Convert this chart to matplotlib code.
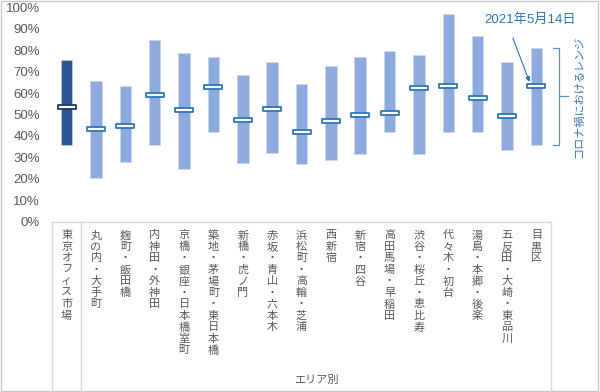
import matplotlib
matplotlib.use('Agg')
import matplotlib.pyplot as plt
from matplotlib.lines import Line2D
from matplotlib.patches import Rectangle
from matplotlib.path import Path

plt.rcParams['font.family'] = ['Liberation Sans', 'Noto Sans CJK JP', 'DejaVu Sans']

areas = [
    '東京オフィス市場', '丸の内・大手町', '麹町・飯田橋', '内神田・外神田',
    '京橋・銀座・日本橋室町', '築地・茅場町・東日本橋', '新橋・虎ノ門',
    '赤坂・青山・六本木', '浜松町・高輪・芝浦', '西新宿', '新宿・四谷',
    '高田馬場・早稲田', '渋谷・桜丘・恵比寿', '代々木・初台',
    '湯島・本郷・後楽', '五反田・大崎・東品川', '目黒区',
]
range_high = [75.3, 65.8, 63.4, 84.6, 78.7, 76.8, 68.3, 74.5, 64.2,
              72.6, 76.8, 79.8, 77.6, 96.9, 86.6, 74.5, 81.2]
range_low = [35.8, 20.2, 27.7, 35.9, 24.4, 41.7, 27.2, 31.9, 26.9,
             28.9, 31.7, 41.7, 31.4, 41.7, 41.7, 33.4, 35.6]
current = [53.4, 43.4, 44.5, 59.0, 52.0, 62.7, 47.4, 52.6, 41.8,
           47.0, 49.6, 50.7, 62.5, 63.2, 57.7, 49.2, 63.4]
yticks = list(range(0, 101, 10))

BAR_LIGHT = '#8faadc'
BAR_DARK = '#2f5597'
MARK_LIGHT = '#2e75b6'
MARK_DARK = '#1f3864'
TEXT_BLUE = '#2e75b6'
GRAY = '#595959'
LINE = '#d9d9d9'
JP = ['Noto Sans CJK JP', 'DejaVu Sans']

W, H = 600, 392
fig = plt.figure(figsize=(W / 100, H / 100), dpi=100)
ax = fig.add_axes([52 / W, 1 - 221.7 / H, 499 / W, 214.4 / H])

x = list(range(len(areas)))
colors = [BAR_DARK] + [BAR_LIGHT] * (len(areas) - 1)
heights = [h - l for h, l in zip(range_high, range_low)]
ax.bar(x, heights, bottom=range_low, width=0.39, color=colors,
       edgecolor='#c9d6ee', linewidth=0.4, zorder=2)

# flat rectangle marker for the current value
rect = Path([(-1, -0.25), (1, -0.25), (1, 0.25), (-1, 0.25), (-1, -0.25)],
            [Path.MOVETO, Path.LINETO, Path.LINETO, Path.LINETO, Path.CLOSEPOLY])
for i, v in enumerate(current):
    ax.plot(i, v, marker=rect, markersize=12.5, markerfacecolor='white',
            markeredgecolor=MARK_DARK if i == 0 else MARK_LIGHT,
            markeredgewidth=1.3, linestyle='none', zorder=3)

ax.set_xlim(-0.5, len(areas) - 0.5)
ax.set_ylim(0, 100)
ax.set_yticks(yticks)
ax.set_yticklabels([f'{t}%' for t in yticks])
ax.tick_params(axis='y', length=0, pad=8.5, labelsize=9.5, labelcolor=GRAY)
ax.set_xticks([])
for s in ax.spines.values():
    s.set_visible(False)

# vertical category labels, one character per line
for i, name in enumerate(areas):
    for k, ch in enumerate(name):
        ax.annotate(ch, xy=(i, 0), xycoords=('data', 'axes fraction'),
                    xytext=(0, -9.9 - 8.28 * k), textcoords='offset points',
                    ha='center', va='center', fontsize=8, color=GRAY,
                    family=JP, annotation_clip=False)

fig.text(316 / W, 1 - 380 / H, 'エリア別', ha='center', va='center',
         fontsize=8, color=GRAY, family=JP)

# category table lines
px = lambda v: v / W
py = lambda v: 1 - v / H
fig.add_artist(Line2D([px(52), px(551)], [py(221.7), py(221.7)], color=LINE, lw=1))
for xv in (52, 81.4, 551):
    fig.add_artist(Line2D([px(xv), px(xv)], [py(221.7), py(391)], color=LINE, lw=1))
fig.add_artist(Rectangle((px(0.5), py(391)), px(597.5), 1 - 1.5 / H,
                         fill=False, edgecolor='#c8c8c8', lw=1))

# annotation for the latest value
ax.annotate('', xy=(15.77, 65.2), xytext=(15.2, 85.7),
            arrowprops=dict(arrowstyle='-|>', color=TEXT_BLUE, lw=0.8,
                            mutation_scale=7, shrinkA=0, shrinkB=0),
            annotation_clip=False)
ax.text(15.79, 94.1, '2021年5月14日', ha='center', va='center',
        fontsize=9.5, color=TEXT_BLUE, family=['Liberation Sans'] + JP)

# bracket marking the range of the last area
xa, xb, xc = 16.57, 16.77, 17.08
top, bot = range_high[-1], range_low[-1]
mid = (top + bot) / 2
ax.plot([xa, xb, xb, xa], [top, top, bot, bot], color='#5b8fd0', lw=0.9,
        clip_on=False, solid_joinstyle='round')
ax.plot([xb, xc], [mid, mid], color='#5b8fd0', lw=0.9, clip_on=False)
ax.text(17.45, mid, 'コロナ禍におけるレンジ', rotation=90, ha='center', va='center',
        fontsize=8, color=TEXT_BLUE, family=JP)

fig.savefig('out.png', dpi=100)
